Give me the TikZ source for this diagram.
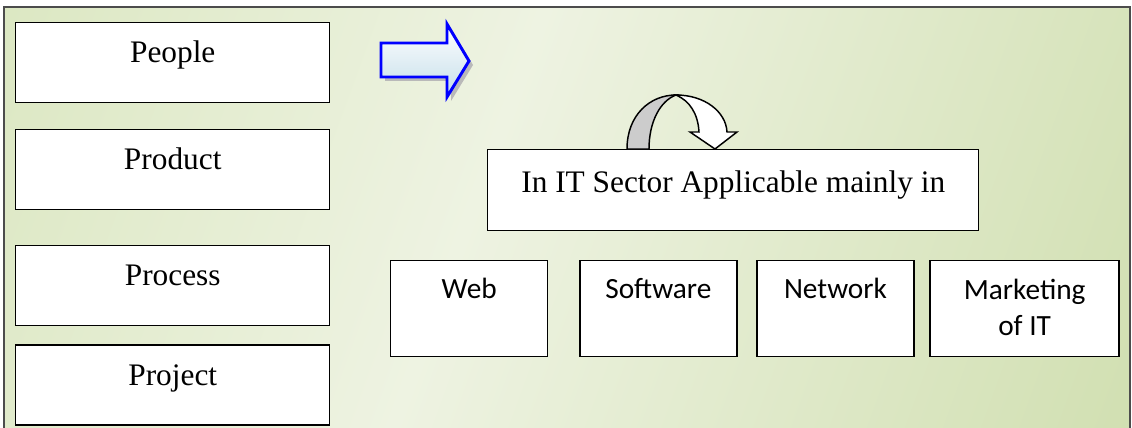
\documentclass[tikz,border=0pt]{standalone}
\usepackage{fontspec}
\setmainfont{Liberation Serif}
\newfontfamily\calibri{Carlito}
\usetikzlibrary{positioning}
\definecolor{bgdark}{HTML}{D0E0AE}
\definecolor{bglight}{HTML}{EEF3E2}
\definecolor{bgdarker}{HTML}{C3D69A}
\definecolor{arrowblue}{HTML}{C4DEEA}
\pgfdeclarehorizontalshading{bgshade}{100bp}{color(0bp)=(bgdark); color(45bp)=(bglight); color(100bp)=(bgdarker)}
\begin{document}
\begin{tikzpicture}[x=0.75pt, y=-0.75pt, thick,
    item/.style = {draw=black, line width=1.1pt, fill=white, inner sep=0pt, minimum width=235.5pt, text height=30pt, text depth=30pt, font=\fontsize{23.5}{28}\selectfont},
    field/.style = {draw=black, line width=1.1pt, fill=white, inner sep=0pt, minimum width=117.75pt, text height=28.5pt, text depth=43.5pt, align=center, font=\calibri\fontsize{22}{27}\selectfont}]
    \useasboundingbox (0,0) rectangle (1132,428);
    \shade[shading=bgshade, shading angle=-20, draw=gray!60!black, line width=1.3pt] (4,7) rectangle (1130,440);
    \node[item, anchor=north west] (people) at (15,22) {People};
    \node[item] (product) [below=19pt of people] {Product};
    \node[item] (process) [below=26pt of product] {Process};
    \node[item] (project) [below=13.5pt of process] {Project};
    \fill[gray!55, shift={(4,4)}] (381,43) -- (447,43) -- (447,24) -- (469,61) -- (447,97) -- (447,77) -- (381,77) -- cycle;
    \path[draw=blue, line width=2.2pt, top color=white, bottom color=arrowblue] (381,43) -- (447,43) -- (447,24) -- (469,61) -- (447,97) -- (447,77) -- (381,77) -- cycle;
    \node[item, anchor=north west, minimum width=368.25pt, text height=32.25pt, text depth=28.5pt] (sector) at (487,149) {In IT Sector Applicable mainly in};
    \filldraw[fill=gray!40, draw=black, line width=1.1pt] (627,149) .. controls (627,115) and (650,95) .. (676,95) .. controls (660,101) and (649,122) .. (649,149) -- cycle;
    \filldraw[fill=white, draw=black, line width=1.1pt] (676,95) .. controls (705,95) and (726,112) .. (727,132) -- (737,132) -- (715,149) -- (690,132) -- (699,132) .. controls (698,114) and (690,101) .. (676,95) -- cycle;
    \node[field, anchor=north west] (web) at (390,260) {Web};
    \node[field] (software) [right=23pt of web] {Software};
    \node[field] (network) [right=14pt of software] {Network};
    \node[field, minimum width=141.75pt, text height=56.25pt, text depth=15.75pt] (marketing) [right=11pt of network] {Marketing\\of IT};
\end{tikzpicture}
\end{document}
